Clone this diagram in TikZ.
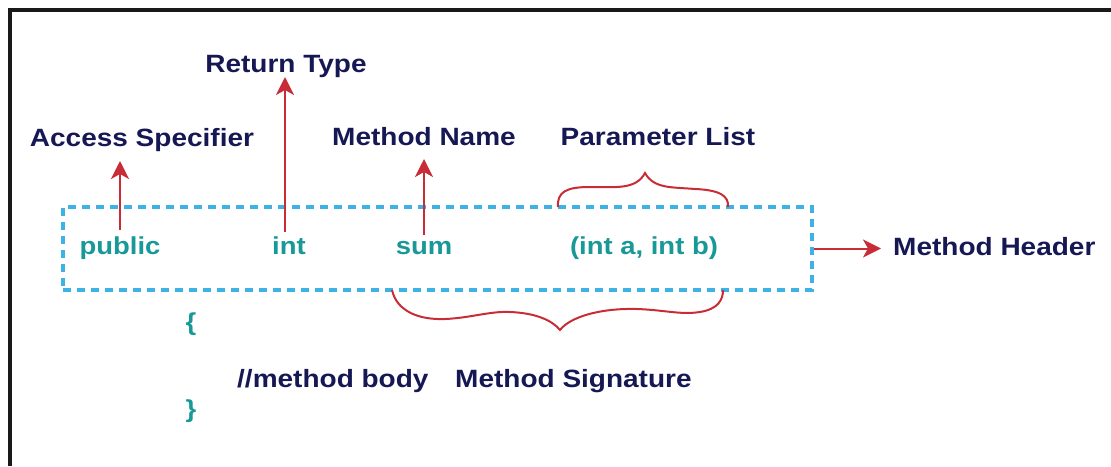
\documentclass[tikz,border=0pt]{standalone}
\usepackage{fontspec}
\setmainfont{Liberation Sans}[FakeStretch=1.12]
\usetikzlibrary{arrows.meta,calc}

\definecolor{navy}{RGB}{22,24,84}
\definecolor{codeteal}{RGB}{24,152,150}
\definecolor{dashblue}{RGB}{62,178,228}
\definecolor{pointred}{RGB}{200,45,55}

\tikzset{
  lbl/.style={inner sep=0pt, anchor=base, text=navy,
    font=\fontsize{25}{30}\selectfont\bfseries},
  code/.style={inner sep=0pt, anchor=base, text=codeteal,
    font=\fontsize{24.5}{30}\selectfont\bfseries},
  hbox/.style={draw=dashblue, line width=3.2pt, dash pattern=on 8pt off 6pt,
    inner sep=0pt},
  pointer/.style={draw=pointred, line width=2pt,
    -{Stealth[length=18pt,width=18pt,inset=5pt]}},
  curly/.style={draw=pointred, line width=2pt},
  frame/.style={draw=black!90, line width=3.5pt}
}

\begin{document}
\begin{tikzpicture}[x=1pt,y=-1pt]
\useasboundingbox (0,0) rectangle (1111,466);

% outer frame (top and left edges)
\draw[frame] (10,466) -- (10,10) -- (1111,10);

% dashed method header box
\node[hbox, minimum width=749pt, minimum height=83pt] (hdr) at (437.5,248.5) {};

% code line
\node[code] (pub) at (120,254) {public};
\node[code] (rt)  at (289,254) {int};
\node[code] (nm)  at (424,254) {sum};
\node[code] (pl)  at (644,254) {(int a, int b)};
\node[code] (ob)  at (191,330) {\{};
\node[code] (cb)  at (191,417) {\}};
\node[lbl, anchor=base west] (body) at (237,387) {//method body};

% labels
\node[lbl] (lrt)  at (286,72)  {Return Type};
\node[lbl] (lacc) at (142,146) {Access Specifier};
\node[lbl] (lnm)  at (424,145) {Method Name};
\node[lbl] (lpl)  at (658,145) {Parameter List};
\node[lbl, anchor=base west] (lmh) at (893,255) {Method Header};
\node[lbl, anchor=base west] (lms) at (455,387) {Method Signature};

% pointers from code to labels
\draw[pointer] ([yshift=6pt]pub.north) -- ([yshift=-15pt]pub.north |- lacc.base);
\draw[pointer] ([xshift=-4pt,yshift=4pt]rt.north) -- ([xshift=-4pt,yshift=-5pt]rt.north |- lrt.base);
\draw[pointer] ([yshift=6pt]nm.north)  -- ([yshift=-14pt]nm.north |- lnm.base);
\draw[pointer] (hdr.east) -- ([xshift=-12pt]lmh.west |- hdr.east);

% brace over the parameter list
\coordinate (pa) at (558,207);
\coordinate (pb) at (728,207);
\draw[curly] (pa) .. controls (557,192) and (566,187) .. (590,187)
  .. controls (615,187) and (636,190) .. (645,173)
  .. controls (654,189) and (672,187) .. (695,189)
  .. controls (720,190) and (729,196) .. (pb);

% brace under the method signature
\coordinate (sa) at (392,290);
\coordinate (sb) at (723,290);
\draw[curly] (sa) .. controls (397,312) and (420,320) .. (445,319)
  .. controls (470,318) and (490,311) .. (510,312)
  .. controls (535,313) and (552,320) .. (560,330)
  .. controls (570,317) and (600,308) .. (637,309)
  .. controls (665,310) and (680,315) .. (700,312)
  .. controls (718,309) and (723,300) .. (sb);
\end{tikzpicture}
\end{document}
